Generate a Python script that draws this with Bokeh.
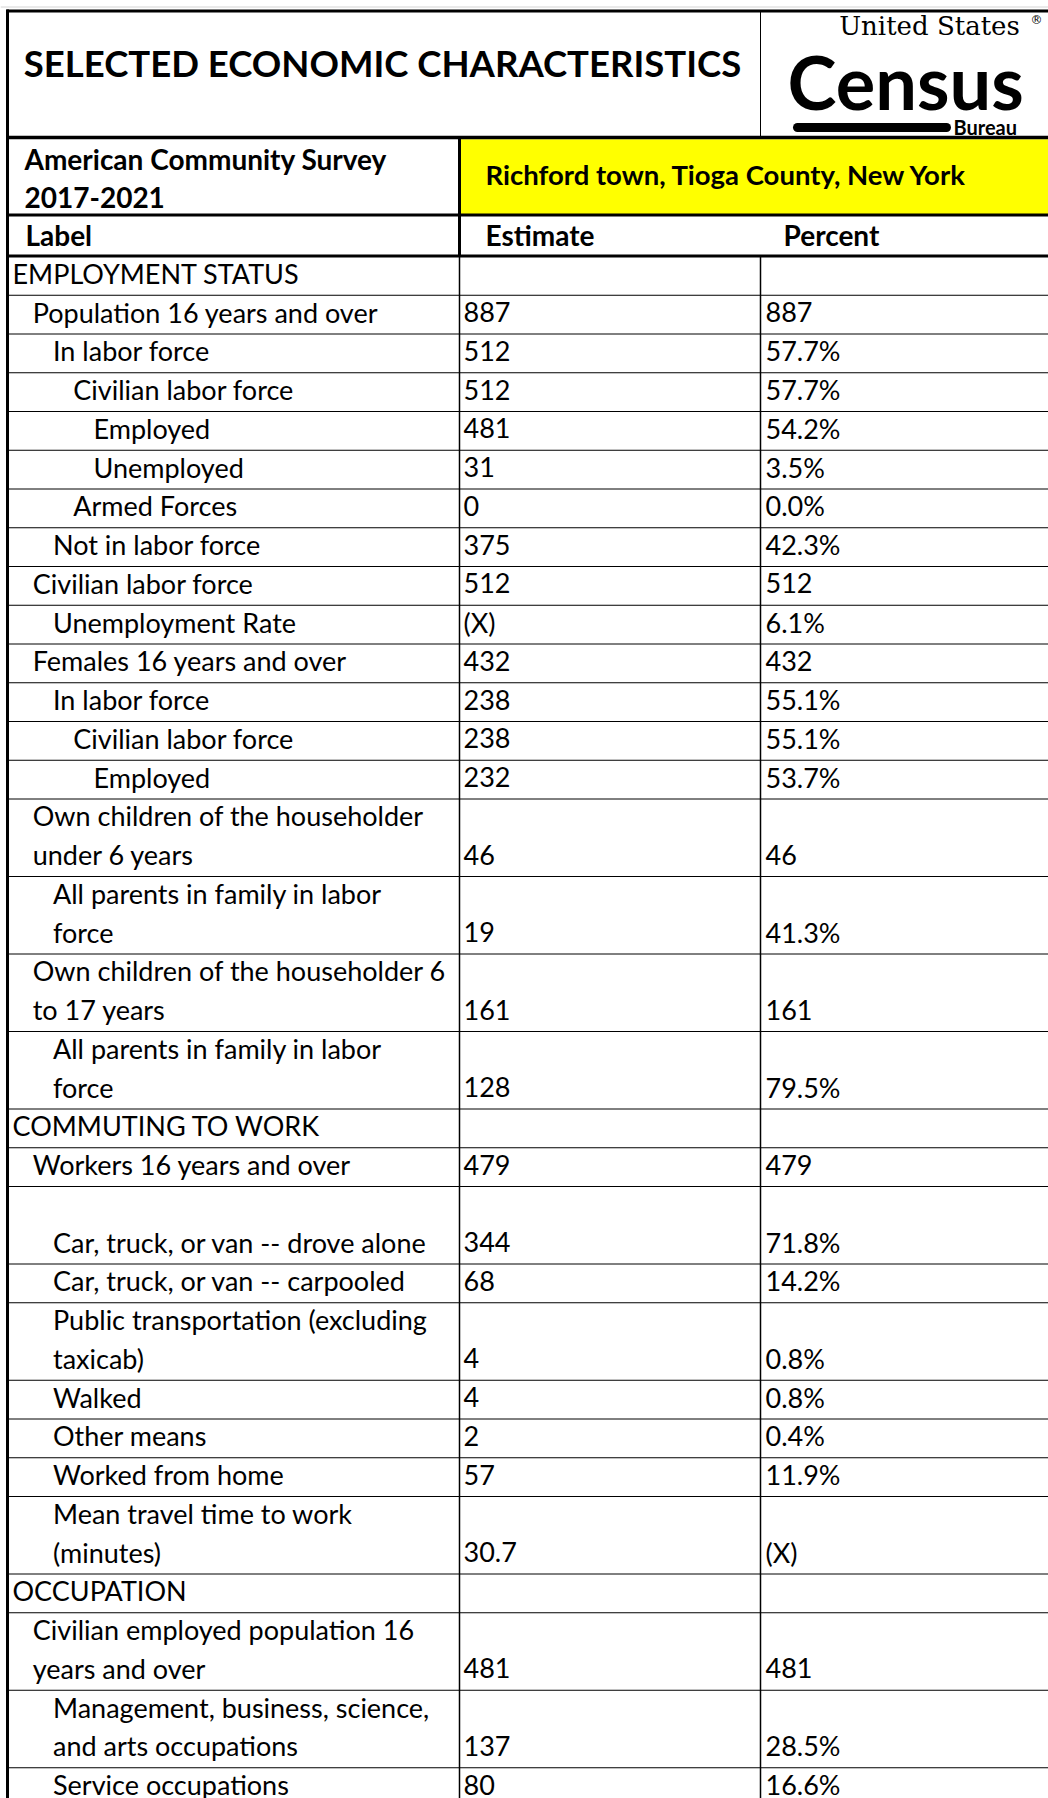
from bokeh.plotting import figure
from bokeh.models import ColumnDataSource, Range1d
from bokeh.core.properties import value
from bokeh.embed import file_html
from bokeh.resources import INLINE

# ---------------- data ----------------
title = "SELECTED ECONOMIC CHARACTERISTICS"
survey_lines = ["American Community Survey", "2017-2021"]
geography = "Richford town, Tioga County, New York"
col_headers = ["Label", "Estimate", "Percent"]

labels = [
    "EMPLOYMENT STATUS",
    "Population 16 years and over",
    "In labor force",
    "Civilian labor force",
    "Employed",
    "Unemployed",
    "Armed Forces",
    "Not in labor force",
    "Civilian labor force",
    "Unemployment Rate",
    "Females 16 years and over",
    "In labor force",
    "Civilian labor force",
    "Employed",
    "Own children of the householder\nunder 6 years",
    "All parents in family in labor\nforce",
    "Own children of the householder 6\nto 17 years",
    "All parents in family in labor\nforce",
    "COMMUTING TO WORK",
    "Workers 16 years and over",
    "\nCar, truck, or van -- drove alone",
    "Car, truck, or van -- carpooled",
    "Public transportation (excluding\ntaxicab)",
    "Walked",
    "Other means",
    "Worked from home",
    "Mean travel time to work\n(minutes)",
    "OCCUPATION",
    "Civilian employed population 16\nyears and over",
    "Management, business, science,\nand arts occupations",
    "Service occupations",
]
levels = [0, 1, 2, 3, 4, 4, 3, 2, 1, 2, 1, 2, 3, 4, 1, 2, 1, 2,
          0, 1, 2, 2, 2, 2, 2, 2, 2, 0, 1, 2, 2]
estimates = ["", "887", "512", "512", "481", "31", "0", "375", "512", "(X)",
             "432", "238", "238", "232", "46", "19", "161", "128",
             "", "479", "344", "68", "4", "4", "2", "57", "30.7",
             "", "481", "137", "80"]
percents = ["", "887", "57.7%", "57.7%", "54.2%", "3.5%", "0.0%", "42.3%", "512", "6.1%",
            "432", "55.1%", "55.1%", "53.7%", "46", "41.3%", "161", "79.5%",
            "", "479", "71.8%", "14.2%", "0.8%", "0.8%", "0.4%", "11.9%", "(X)",
            "", "481", "28.5%", "16.6%"]

# ---------------- layout geometry ----------------
W, H = 1048, 1798
ROW_H = 38.75
Y0 = 256.0
COL1, COL2 = 459.0, 760.0
RIGHT = 1048.0
BASE_OFF = 11.0
FONT = value("Lato")
ADJ = 0.4  # baseline correction (fraction of font size)

tops, bottoms = [], []
y = Y0
for lab in labels:
    n = lab.count("\n") + 1
    tops.append(y)
    y += n * ROW_H
    bottoms.append(y)

lab_x, lab_y, lab_t = [], [], []
for lab, lev, bot in zip(labels, levels, bottoms):
    parts = lab.split("\n")
    n = len(parts)
    for j, part in enumerate(parts):
        if part:
            lab_x.append(12 + 20.25 * lev)
            lab_y.append(bot - BASE_OFF - (n - 1 - j) * ROW_H)
            lab_t.append(part)

val_x, val_y, val_t = [], [], []
for est, pct, bot in zip(estimates, percents, bottoms):
    if est:
        val_x.append(COL1 + 4); val_y.append(bot - BASE_OFF); val_t.append(est)
    if pct:
        val_x.append(COL2 + 5); val_y.append(bot - BASE_OFF); val_t.append(pct)

p = figure(width=W, height=H, x_range=Range1d(0, W), y_range=Range1d(H, 0),
           output_backend="svg", toolbar_location=None, min_border=0,
           x_axis_location=None, y_axis_location=None)
p.grid.visible = False
p.outline_line_color = None
p.background_fill_color = "white"
p.border_fill_color = "white"


def put_text(xs, ys, texts, size, font=FONT, style="normal", align="left"):
    src = ColumnDataSource(dict(x=list(xs), y=[v - ADJ * size for v in ys], t=list(texts)))
    p.text(x="x", y="y", text="t", source=src, text_font=font, text_font_size=f"{size}px",
           text_font_style=style, text_align=align, text_baseline="alphabetic", text_color="black")


# faint sheet line above the table
p.segment(x0=[0], x1=[W], y0=[6.5], y1=[6.5], line_color="#d4d4d4", line_width=1)

# yellow geography cell
p.quad(left=[COL1 + 1.5], right=[RIGHT], top=[138.8], bottom=[213.5],
       fill_color="#FFFF00", line_color=None)

# thin row separators
p.segment(x0=[8] * len(bottoms), x1=[RIGHT] * len(bottoms), y0=bottoms, y1=bottoms,
          line_color="black", line_width=1)
# column dividers
p.segment(x0=[COL1, COL2, COL2, COL1], x1=[COL1, COL2, COL2, COL1],
          y0=[255, 255, 10, 137], y1=[1800, 1800, 137, 255],
          line_color="black", line_width=[1.5, 1.5, 1, 3])
# thick borders
p.segment(x0=[6, 6, 6, 6], x1=[RIGHT] * 4, y0=[10.5, 137, 214.5, 255.5], y1=[10.5, 137, 214.5, 255.5],
          line_color="black", line_width=[3, 3.5, 3, 3])
p.segment(x0=[7], x1=[7], y0=[9], y1=[1800], line_color="black", line_width=3)

# title
put_text([382], [77], [title], 36.5, style="bold", align="center")

# census logo
put_text([929], [35.5], ["United States"], 26, font=value("DejaVu Serif"), align="center")
put_text([1030], [24], ["®"], 12, font=value("DejaVu Sans"))
put_text([787], [111], ["Census"], 74, style="bold")
p.segment(x0=[797], x1=[946], y0=[127], y1=[127], line_color="black", line_width=9, line_cap="round")
put_text([953], [134], ["Bureau"], 20, style="bold")

# survey / geography
put_text([24, 24], [170, 208], survey_lines, 28, style="bold")
put_text([485], [185], [geography], 27.5, style="bold")

# column headers
put_text([25, 485, 783], [246, 246, 246], col_headers, 28, style="bold")

# body text
put_text(lab_x, lab_y, lab_t, 27)
put_text(val_x, val_y, val_t, 27)

open("out.html", "w").write(file_html(p, INLINE))
